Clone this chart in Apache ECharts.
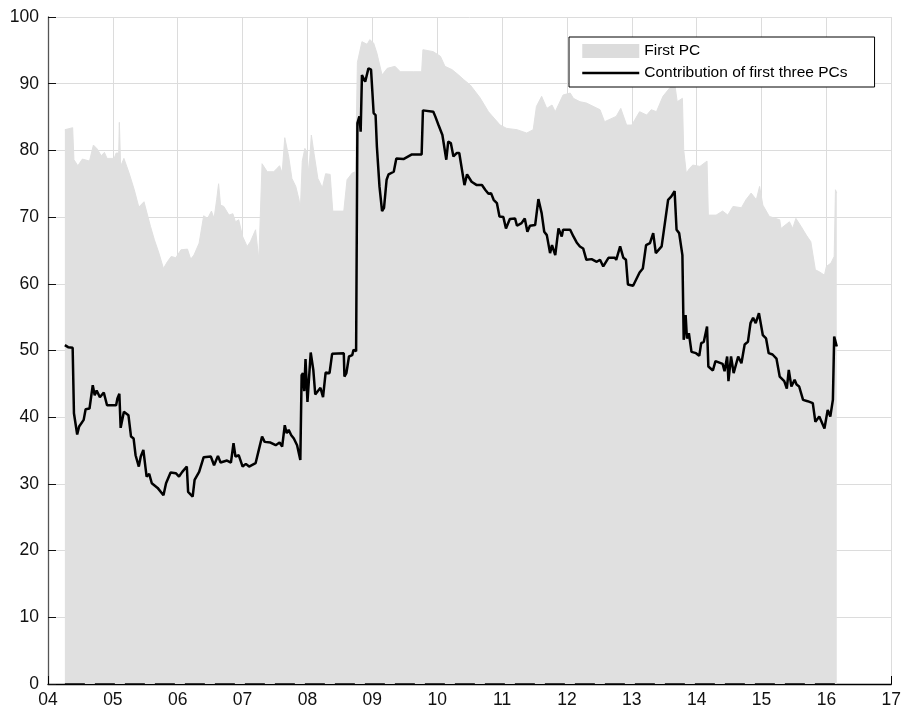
<!DOCTYPE html>
<html>
<head>
<meta charset="utf-8">
<script src="https://cdn.jsdelivr.net/npm/echarts@6/dist/echarts.min.js"></script>
<style>
html,body{margin:0;padding:0;background:#fff;}
#chart{width:904px;height:712px;}
</style>
</head>
<body>
<div id="chart"></div>
<script>
// Tick labels
var xTickLabels = ['04','05','06','07','08','09','10','11','12','13','14','15','16','17'];
var yTickLabels = ['0','10','20','30','40','50','60','70','80','90','100'];

// First PC (share of variance, %), dates in decimal years
var firstPcDates = [
2004.26,2004.38,2004.40,2004.46,2004.53,2004.64,2004.70,2004.76,2004.82,2004.87,2004.91,
2005.02,2005.05,2005.09,2005.10,2005.12,2005.17,2005.25,2005.33,2005.40,2005.48,2005.58,2005.64,2005.71,2005.78,2005.84,2005.90,2005.97,
2006.05,2006.15,2006.20,2006.25,2006.33,2006.40,2006.46,2006.52,2006.56,2006.60,2006.63,2006.66,2006.71,2006.79,2006.85,2006.89,2006.94,
2007.00,2007.07,2007.12,2007.20,2007.25,2007.30,2007.38,2007.48,2007.53,2007.57,2007.61,2007.65,2007.71,2007.76,2007.82,2007.87,2007.89,2007.92,2007.96,2007.99,
2008.02,2008.06,2008.10,2008.16,2008.23,2008.28,2008.35,2008.39,2008.56,2008.61,2008.69,2008.74,2008.77,2008.84,2008.92,2008.96,
2009.02,2009.07,2009.15,2009.23,2009.35,2009.43,2009.64,2009.76,2009.78,2009.94,
2010.05,2010.12,2010.23,2010.33,2010.41,2010.51,2010.66,2010.79,2010.97,
2011.07,2011.23,2011.38,2011.48,2011.53,2011.61,2011.69,2011.77,2011.82,2011.94,
2012.05,2012.10,2012.20,2012.30,2012.51,2012.58,2012.76,2012.83,2012.92,
2013.00,2013.12,2013.23,2013.30,2013.38,2013.48,2013.58,2013.66,2013.70,2013.78,2013.80,2013.84,2013.89,2013.94,
2014.05,2014.16,2014.18,2014.30,2014.40,2014.48,2014.56,2014.69,2014.76,2014.84,2014.92,2014.97,
2015.02,2015.12,2015.28,2015.30,2015.43,2015.48,2015.53,2015.61,2015.69,2015.76,2015.83,2015.89,2015.97,
2016.00,2016.07,2016.12,2016.14,2016.16
];
var firstPcValues = [
83.1,83.4,78.6,77.7,78.7,78.4,80.8,80.2,79.2,79.7,78.8,
78.8,79.6,79.6,84.2,77.6,78.8,76.6,74.1,71.5,72.3,68.6,66.6,64.6,62.3,63.3,64.1,63.9,
65.1,65.2,63.7,64.3,66.1,70.2,69.8,70.9,69.8,72.6,75.0,71.8,71.6,70.3,70.5,69.3,69.6,
67.1,65.6,66.3,68.1,63.6,78.0,76.8,76.8,77.3,77.7,76.6,81.9,79.1,75.8,74.6,72.6,71.1,78.4,80.3,79.8,
76.6,82.3,79.6,75.8,74.4,76.5,76.4,70.9,70.9,75.6,76.6,76.8,93.2,96.3,95.9,96.6,
96.1,94.6,91.3,92.3,92.6,91.8,91.8,91.8,95.1,94.8,
94.1,92.6,92.1,91.3,90.6,89.8,87.9,85.8,83.8,
83.3,83.1,82.6,83.1,86.6,88.1,86.3,86.8,85.8,88.3,
88.6,87.8,87.3,87.1,86.1,84.3,85.1,86.3,83.8,
83.8,85.8,85.3,86.1,85.8,88.1,89.3,90.1,87.3,87.8,80.1,76.6,77.3,77.8,
77.6,78.4,70.3,70.3,70.9,70.3,71.6,71.4,72.6,73.6,72.6,74.6,
71.8,70.1,69.6,68.3,69.3,68.3,69.8,68.6,67.3,66.3,62.1,61.8,61.3,
62.6,63.1,64.1,74.1,73.6
];

// Contribution of first three PCs (%)
var contribDates = [
2004.26,2004.31,2004.38,2004.40,2004.45,2004.48,2004.55,2004.58,2004.64,2004.69,2004.72,2004.75,2004.80,2004.86,2004.91,
2005.05,2005.07,2005.10,2005.12,2005.15,2005.17,2005.24,2005.28,2005.32,2005.35,2005.40,2005.43,2005.47,2005.52,2005.56,2005.60,2005.69,2005.78,2005.82,2005.85,2005.89,2005.97,
2006.02,2006.07,2006.14,2006.16,2006.23,2006.26,2006.33,2006.40,2006.51,2006.56,2006.62,2006.66,2006.76,2006.82,2006.86,2006.89,2006.94,
2007.00,2007.05,2007.10,2007.20,2007.25,2007.30,2007.34,2007.43,2007.51,2007.57,2007.61,2007.65,2007.68,2007.71,2007.75,2007.79,2007.84,2007.89,2007.91,2007.93,2007.95,2007.97,
2008.00,2008.05,2008.09,2008.12,2008.20,2008.24,2008.28,2008.34,2008.38,2008.56,2008.57,2008.60,2008.64,2008.69,2008.71,2008.75,2008.77,2008.80,2008.82,2008.84,2008.89,2008.94,2008.98,
2009.02,2009.05,2009.07,2009.11,2009.15,2009.18,2009.22,2009.25,2009.33,2009.37,2009.48,2009.61,2009.76,2009.78,2009.94,2009.97,
2010.02,2010.08,2010.14,2010.17,2010.21,2010.25,2010.30,2010.34,2010.42,2010.46,2010.53,2010.61,2010.69,2010.74,2010.79,2010.83,2010.87,2010.92,2010.96,
2011.02,2011.06,2011.12,2011.20,2011.23,2011.30,2011.35,2011.39,2011.43,2011.51,2011.56,2011.61,2011.65,2011.69,2011.74,2011.77,2011.82,2011.87,2011.92,2011.94,
2012.05,2012.10,2012.15,2012.20,2012.25,2012.30,2012.38,2012.46,2012.51,2012.56,2012.64,2012.74,2012.76,2012.82,2012.87,2012.91,2012.94,
2013.02,2013.12,2013.17,2013.22,2013.28,2013.33,2013.37,2013.40,2013.46,2013.51,2013.56,2013.61,2013.66,2013.69,2013.73,2013.78,2013.80,2013.83,2013.85,2013.88,2013.92,2013.99,
2014.04,2014.07,2014.11,2014.16,2014.18,2014.25,2014.29,2014.40,2014.43,2014.47,2014.49,2014.53,2014.57,2014.64,2014.69,2014.74,2014.79,2014.83,2014.87,2014.91,2014.96,
2015.02,2015.07,2015.11,2015.17,2015.23,2015.28,2015.35,2015.39,2015.42,2015.46,2015.51,2015.54,2015.58,2015.64,2015.71,2015.79,2015.83,2015.89,2015.97,
2016.02,2016.06,2016.10,2016.12,2016.16
];
var contribValues = [
50.8,50.5,50.4,40.6,37.4,38.6,39.6,41.2,41.3,44.8,43.3,44.0,43.0,43.7,41.8,
41.8,42.8,43.5,38.4,38.5,40.8,40.3,37.1,36.8,34.3,32.6,34.1,35.1,31.1,31.5,30.1,29.4,28.3,30.1,30.0,31.7,31.6,
31.1,31.8,32.6,28.8,28.1,30.6,31.8,34.0,34.1,32.8,34.2,33.2,33.5,33.2,36.1,34.1,34.3,
32.6,33.0,32.6,33.1,35.1,37.1,36.3,36.2,35.8,36.2,35.6,38.8,37.6,38.1,37.3,36.8,35.8,33.6,46.3,46.6,43.9,48.7,
42.3,49.7,47.1,43.4,44.4,43.0,46.7,46.6,49.5,49.6,46.1,46.6,49.1,49.3,50.1,49.9,84.1,85.1,82.8,91.3,90.3,92.3,92.1,
85.6,85.3,80.6,74.6,70.9,71.4,75.6,76.4,76.8,78.8,78.7,79.4,79.4,86.0,85.8,85.1,
83.8,82.3,78.6,81.3,81.1,79.1,79.6,79.6,74.8,76.4,75.3,74.8,74.8,74.1,73.5,73.6,72.6,72.1,70.1,
70.0,68.3,69.7,69.8,68.7,69.1,69.8,67.8,68.7,68.8,72.7,70.6,67.8,67.3,64.6,65.8,64.3,68.3,67.1,68.1,
68.1,67.1,66.2,65.6,65.3,63.6,63.7,63.3,63.6,62.6,63.9,63.9,63.6,65.6,63.9,63.6,59.9,
59.7,61.7,62.3,65.8,66.1,67.6,64.6,64.6,65.6,69.1,72.6,73.1,73.9,68.1,67.6,64.3,51.6,55.3,51.8,52.6,49.8,49.6,
49.2,51.1,51.3,53.6,47.6,47.0,48.4,48.0,46.9,49.1,45.4,49.1,46.6,49.1,48.1,50.9,51.3,54.1,54.9,54.1,55.6,
52.3,51.8,49.6,49.4,48.8,46.1,45.4,44.3,47.1,44.6,45.6,44.9,44.6,42.6,42.4,42.1,39.3,40.1,38.3,
41.1,40.1,42.6,52.1,50.6
];

function zip(a, b) { return a.map(function (d, i) { return [d, b[i]]; }); }

var FONT = '"Liberation Sans", Arial, Helvetica, sans-serif';
var chart = echarts.init(document.getElementById('chart'), null, {renderer: 'canvas'});

chart.setOption({
  animation: false,
  backgroundColor: '#ffffff',
  grid: {left: 48, right: 11, top: 17, bottom: 28, containLabel: false},
  legend: {
    left: 569, top: 37,
    orient: 'vertical',
    padding: [6, 27, 6, 12],
    itemGap: 6,
    itemWidth: 57,
    itemHeight: 14,
    backgroundColor: '#ffffff',
    borderColor: '#000000',
    borderWidth: 1,
    borderRadius: 0,
    selectedMode: false,
    textStyle: {fontFamily: FONT, fontSize: 15.5, color: '#000', lineHeight: 14, padding: [0, 0, 0, 0]},
    data: [
      {name: 'First PC', icon: 'rect', itemStyle: {color: '#dcdcdc', borderWidth: 0}},
      {name: 'Contribution of first three PCs', itemStyle: {opacity: 0}, lineStyle: {color: '#000', width: 2.5}}
    ]
  },
  xAxis: {
    type: 'value', min: 2004, max: 2017, interval: 1,
    axisLine: {show: true, onZero: false, lineStyle: {color: '#000', width: 1.3}},
    axisTick: {show: true, inside: true, length: 8, lineStyle: {color: '#000', width: 1}},
    axisLabel: {
      margin: 7, color: '#111', fontFamily: FONT, fontSize: 17.5,
      formatter: function (v) { return xTickLabels[Math.round(v - 2004)]; }
    },
    splitLine: {show: true, lineStyle: {color: '#dcdcdc', width: 1}}
  },
  yAxis: {
    type: 'value', min: 0, max: 100, interval: 10,
    axisLine: {show: true, lineStyle: {color: '#555', width: 1.3}},
    axisTick: {show: true, inside: true, length: 8, lineStyle: {color: '#111', width: 1}},
    axisLabel: {
      margin: 9, color: '#111', fontFamily: FONT, fontSize: 17.5,
      formatter: function (v) { return yTickLabels[Math.round(v / 10)]; }
    },
    splitLine: {show: true, lineStyle: {color: '#dcdcdc', width: 1}}
  },
  series: [
    {
      name: 'First PC', type: 'line', symbol: 'none', z: 2,
      data: zip(firstPcDates, firstPcValues),
      lineStyle: {color: '#e0e0e0', width: 1},
      itemStyle: {color: '#dcdcdc'},
      areaStyle: {color: '#e0e0e0', opacity: 1},
      silent: true
    },
    {
      name: 'zero', type: 'line', symbol: 'none', z: 3, silent: true, clip: false,
      data: [[firstPcDates[0], 0], [firstPcDates[firstPcDates.length - 1], 0]],
      lineStyle: {color: '#000', width: 1.6, type: [20, 10]}
    },
    {
      name: 'Contribution of first three PCs', type: 'line', symbol: 'none', z: 4,
      data: zip(contribDates, contribValues),
      lineStyle: {color: '#000', width: 2.5},
      itemStyle: {color: '#000'}
    }
  ]
});
</script>
</body>
</html>
